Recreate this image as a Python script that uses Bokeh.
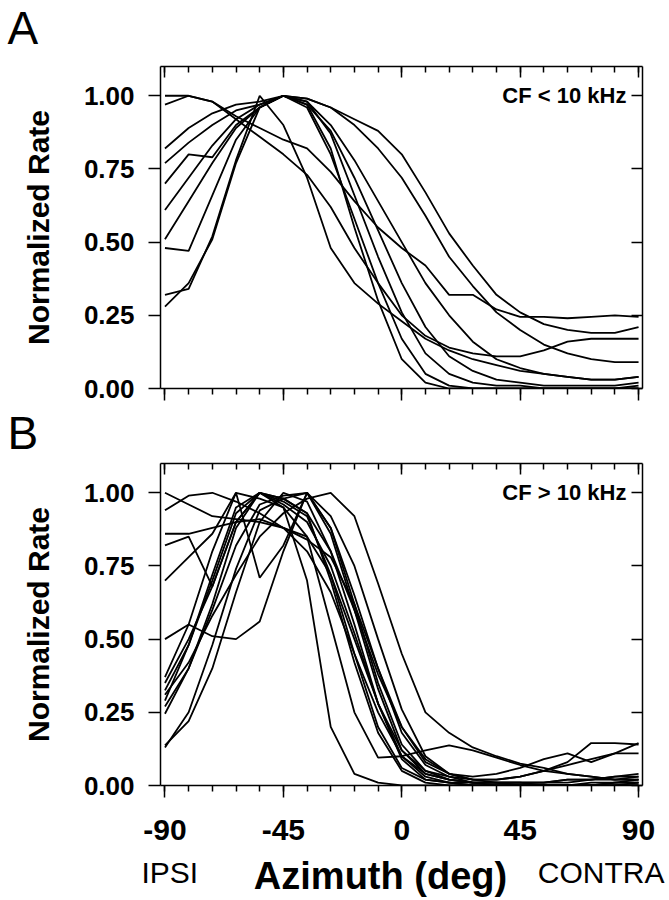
from bokeh.plotting import figure
from bokeh.layouts import column
from bokeh.models import (LinearAxis, FixedTicker, PrintfTickFormatter, Label,
                          ColumnDataSource, Range1d)
from bokeh.embed import file_html
from bokeh.resources import INLINE

FONT = "Liberation Sans"

# Azimuth sample positions (deg)
azimuth = [-90, -81, -72, -63, -54, -45, -36, -27, -18, -9, 0,
           9, 18, 27, 36, 45, 54, 63, 72, 81, 90]

# Panel A: CF < 10 kHz (normalized rate curves)
a1 = [1.00, 1.00, 0.98, 0.93, 0.89, 0.85, 0.82, 0.74, 0.64, 0.55, 0.48, 0.42, 0.32, 0.32, 0.27, 0.245, 0.245, 0.24, 0.245, 0.25, 0.245]
a2 = [0.97, 1.00, 0.98, 0.92, 0.86, 0.80, 0.73, 0.62, 0.48, 0.36, 0.25, 0.18, 0.14, 0.12, 0.11, 0.11, 0.13, 0.16, 0.17, 0.17, 0.17]
a3 = [0.82, 0.89, 0.94, 0.97, 0.98, 1.00, 0.99, 0.96, 0.92, 0.88, 0.80, 0.67, 0.53, 0.42, 0.32, 0.26, 0.22, 0.20, 0.19, 0.19, 0.21]
a4 = [0.77, 0.84, 0.90, 0.95, 0.97, 1.00, 0.99, 0.96, 0.90, 0.82, 0.72, 0.59, 0.45, 0.35, 0.26, 0.20, 0.15, 0.12, 0.10, 0.09, 0.09]
a5 = [0.70, 0.80, 0.79, 0.90, 0.96, 1.00, 0.98, 0.90, 0.78, 0.64, 0.50, 0.36, 0.25, 0.16, 0.10, 0.07, 0.05, 0.04, 0.03, 0.03, 0.04]
a6 = [0.61, 0.72, 0.83, 0.92, 0.97, 1.00, 0.97, 0.88, 0.72, 0.54, 0.36, 0.21, 0.11, 0.06, 0.03, 0.02, 0.01, 0.01, 0.01, 0.01, 0.02]
a7 = [0.51, 0.64, 0.77, 0.89, 0.96, 1.00, 0.98, 0.87, 0.66, 0.45, 0.26, 0.12, 0.05, 0.02, 0.01, 0.01, 0.00, 0.00, 0.00, 0.00, 0.01]
a8 = [0.48, 0.47, 0.66, 0.85, 0.96, 1.00, 0.96, 0.80, 0.58, 0.36, 0.17, 0.05, 0.01, 0.00, 0.00, 0.00, 0.00, 0.00, 0.00, 0.00, 0.00]
a9 = [0.32, 0.34, 0.52, 0.78, 1.00, 0.90, 0.72, 0.48, 0.36, 0.29, 0.23, 0.17, 0.13, 0.10, 0.08, 0.06, 0.05, 0.04, 0.03, 0.03, 0.04]
a10 = [0.28, 0.36, 0.51, 0.77, 0.96, 1.00, 0.97, 0.82, 0.55, 0.30, 0.10, 0.02, 0.00, 0.00, 0.00, 0.00, 0.00, 0.00, 0.00, 0.00, 0.00]
panel_a = [a1, a2, a3, a4, a5, a6, a7, a8, a9, a10]

# Panel B: CF > 10 kHz
b1 = [1.00, 0.96, 0.92, 0.91, 0.90, 0.88, 0.85, 0.72, 0.50, 0.28, 0.12, 0.05, 0.02, 0.01, 0.01, 0.01, 0.01, 0.02, 0.02, 0.03, 0.04]
b2 = [0.94, 0.99, 1.00, 0.97, 0.93, 0.88, 0.80, 0.66, 0.45, 0.25, 0.10, 0.04, 0.02, 0.01, 0.01, 0.01, 0.00, 0.00, 0.00, 0.01, 0.01]
b3 = [0.86, 0.86, 0.88, 0.90, 0.91, 0.88, 0.84, 0.78, 0.62, 0.40, 0.20, 0.09, 0.04, 0.02, 0.02, 0.03, 0.05, 0.07, 0.09, 0.11, 0.11]
b4 = [0.82, 0.85, 0.68, 0.90, 1.00, 0.96, 0.90, 0.75, 0.52, 0.28, 0.10, 0.03, 0.01, 0.01, 0.00, 0.00, 0.00, 0.00, 0.01, 0.01, 0.02]
b5 = [0.70, 0.78, 0.86, 1.00, 0.71, 0.82, 1.00, 0.88, 0.65, 0.40, 0.18, 0.07, 0.03, 0.01, 0.01, 0.00, 0.00, 0.00, 0.00, 0.00, 0.00]
b6 = [0.50, 0.55, 0.51, 0.50, 0.56, 0.80, 1.00, 0.92, 0.75, 0.50, 0.26, 0.10, 0.04, 0.02, 0.02, 0.03, 0.05, 0.08, 0.145, 0.145, 0.14]
b7 = [0.37, 0.55, 0.80, 1.00, 0.98, 0.95, 0.85, 0.55, 0.25, 0.095, 0.10, 0.12, 0.137, 0.12, 0.095, 0.07, 0.05, 0.04, 0.03, 0.02, 0.02]
b8 = [0.325, 0.48, 0.70, 0.93, 1.00, 0.98, 0.93, 0.80, 0.60, 0.38, 0.20, 0.08, 0.04, 0.03, 0.04, 0.06, 0.09, 0.11, 0.08, 0.11, 0.145]
b9 = [0.29, 0.48, 0.72, 0.95, 1.00, 0.97, 0.92, 0.72, 0.45, 0.20, 0.06, 0.02, 0.01, 0.00, 0.00, 0.00, 0.00, 0.00, 0.00, 0.01, 0.01]
b10 = [0.27, 0.40, 0.60, 0.82, 0.96, 0.99, 1.00, 0.88, 0.62, 0.35, 0.14, 0.05, 0.03, 0.02, 0.01, 0.01, 0.01, 0.01, 0.02, 0.02, 0.03]
b11 = [0.245, 0.40, 0.62, 0.88, 1.00, 0.98, 0.93, 0.70, 0.42, 0.18, 0.05, 0.01, 0.00, 0.00, 0.00, 0.00, 0.00, 0.00, 0.00, 0.00, 0.01]
b12 = [0.137, 0.22, 0.40, 0.66, 0.90, 1.00, 0.97, 0.80, 0.55, 0.28, 0.09, 0.02, 0.01, 0.00, 0.00, 0.00, 0.00, 0.00, 0.00, 0.00, 0.00]
b13 = [0.13, 0.25, 0.48, 0.74, 0.94, 0.98, 1.00, 0.86, 0.60, 0.33, 0.12, 0.04, 0.02, 0.01, 0.01, 0.01, 0.01, 0.02, 0.02, 0.03, 0.03]
b14 = [0.31, 0.42, 0.58, 0.72, 0.85, 0.93, 0.98, 1.00, 0.92, 0.69, 0.45, 0.25, 0.18, 0.13, 0.10, 0.075, 0.06, 0.04, 0.03, 0.02, 0.02]
b15 = [0.35, 0.50, 0.68, 0.90, 1.00, 0.95, 0.70, 0.20, 0.04, 0.01, 0.00, 0.00, 0.00, 0.00, 0.00, 0.00, 0.00, 0.00, 0.00, 0.00, 0.00]
panel_b = [b1, b2, b3, b4, b5, b6, b7, b8, b9, b10, b11, b12, b13, b14, b15]

y_ticks = [0.0, 0.25, 0.50, 0.75, 1.00]
x_ticks = [-90, -45, 0, 45, 90]
x_minor = list(range(-90, 91, 9))

X_RANGE = (-91.7, 91.5)
Y_RANGE = (0.0, 1.1)

W = 665
LEFT = 160
FRAME_W = 482
RIGHT = W - LEFT - FRAME_W


def hide_labels(ax):
    ax.major_label_text_color = None
    ax.major_label_text_font_size = "0px"
    ax.major_label_standoff = 0


def text_strip(height):
    s = figure(width=W, height=height, output_backend="svg", title=None,
               toolbar_location=None, x_range=Range1d(0, W),
               y_range=Range1d(0, height), x_axis_location=None,
               y_axis_location=None, min_border=0, frame_align=False)
    s.outline_line_color = None
    s.xgrid.visible = False
    s.ygrid.visible = False
    return s


def make_panel(curves, cf_text, height, top, bottom, show_x_labels):
    p = figure(width=W, height=height, output_backend="svg", title=None,
               toolbar_location=None, x_range=Range1d(*X_RANGE),
               y_range=Range1d(*Y_RANGE), frame_align=False,
               min_border_left=LEFT, min_border_right=RIGHT,
               min_border_top=top, min_border_bottom=bottom)
    p.outline_line_color = None
    p.xgrid.visible = False
    p.ygrid.visible = False

    src = ColumnDataSource(dict(xs=[azimuth] * len(curves), ys=curves))
    p.multi_line("xs", "ys", source=src, line_color="black", line_width=1.8)

    # left axis
    ly = p.yaxis[0]
    ly.ticker = FixedTicker(ticks=y_ticks)
    ly.formatter = PrintfTickFormatter(format="%.2f")
    ly.major_tick_out = 12
    ly.major_tick_in = 0
    ly.minor_tick_out = 0
    ly.minor_tick_in = 0
    ly.axis_line_width = 1.5
    ly.major_tick_line_width = 1.5
    ly.major_label_text_font = FONT
    ly.major_label_text_font_style = "bold"
    ly.major_label_text_font_size = "26px"
    ly.major_label_text_color = "black"
    ly.major_label_standoff = 14
    ly.axis_label = "Normalized Rate"
    ly.axis_label_text_font = FONT
    ly.axis_label_text_font_style = "bold"
    ly.axis_label_text_font_size = "30px"
    ly.axis_label_text_color = "black"
    ly.axis_label_standoff = 26

    # right axis (inward ticks)
    ry = LinearAxis(ticker=FixedTicker(ticks=y_ticks))
    ry.major_tick_in = 11
    ry.major_tick_out = 0
    ry.minor_tick_in = 0
    ry.minor_tick_out = 0
    ry.axis_line_width = 1.5
    ry.major_tick_line_width = 1.5
    hide_labels(ry)
    p.add_layout(ry, "right")

    # bottom axis
    bx = p.xaxis[0]
    bx.ticker = FixedTicker(ticks=x_ticks, minor_ticks=x_minor)
    bx.formatter = PrintfTickFormatter(format="%d")
    bx.major_tick_out = 12
    bx.major_tick_in = 0
    bx.minor_tick_out = 6
    bx.minor_tick_in = 0
    bx.axis_line_width = 1.5
    bx.major_tick_line_width = 1.5
    bx.minor_tick_line_width = 1.5
    if show_x_labels:
        bx.major_label_text_font = FONT
        bx.major_label_text_font_style = "bold"
        bx.major_label_text_font_size = "30px"
        bx.major_label_text_color = "black"
        bx.major_label_standoff = 22
    else:
        hide_labels(bx)

    # top axis (inward ticks)
    tx = LinearAxis(ticker=FixedTicker(ticks=x_ticks, minor_ticks=x_minor))
    tx.major_tick_in = 11
    tx.major_tick_out = 0
    tx.minor_tick_in = 6
    tx.minor_tick_out = 0
    tx.axis_line_width = 1.5
    tx.major_tick_line_width = 1.5
    tx.minor_tick_line_width = 1.5
    hide_labels(tx)
    p.add_layout(tx, "above")

    p.add_layout(Label(x=85.4, y=1.0, text=cf_text, text_align="right",
                       text_baseline="middle", text_font=FONT,
                       text_font_style="bold", text_font_size="22px",
                       text_color="black"))
    return p


def strip_label(strip, x, y, text, align, size, bold=False):
    strip.add_layout(Label(x=x, y=y, text=text, text_align=align,
                           text_baseline="middle", text_font=FONT,
                           text_font_style="bold" if bold else "normal",
                           text_font_size=size, text_color="black"))


# header with panel letter A (page y 0-62)
head_a = text_strip(62)
strip_label(head_a, 7, 35, "A", "left", "46px")

pa = make_panel(panel_a, "CF < 10 kHz", 340, 4, 14, False)

# header with panel letter B (page y 402-459)
head_b = text_strip(57)
strip_label(head_b, 7, 27, "B", "left", "46px")

pb = make_panel(panel_b, "CF > 10 kHz", 396, 4, 70, True)

# footer (page y 855-898)
foot = text_strip(43)
strip_label(foot, 141, 26, "IPSI", "left", "30px")
strip_label(foot, 380, 23, "Azimuth (deg)", "center", "38px", bold=True)
strip_label(foot, 664, 26, "CONTRA", "right", "30px")

layout = column(head_a, pa, head_b, pb, foot, spacing=0)
open("out.html", "w").write(file_html(layout, INLINE))
